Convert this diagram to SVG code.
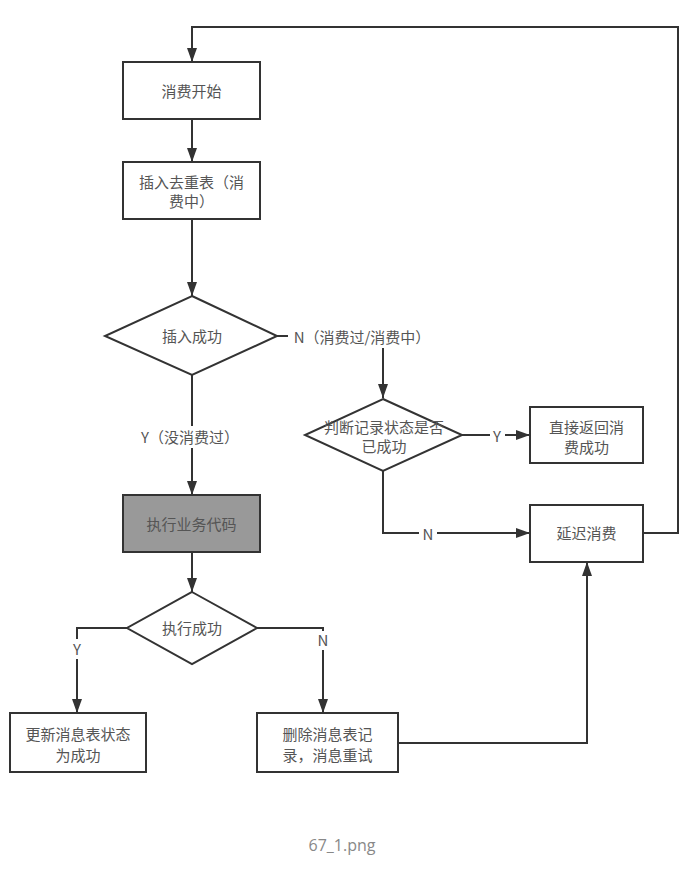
<svg xmlns="http://www.w3.org/2000/svg" width="692" height="873" viewBox="0 0 692 873">
<style>
.box{fill:#fff;stroke:#333;stroke-width:2}
.gray{fill:#999;stroke:#333;stroke-width:2}
.dia{fill:#fff;stroke:#333;stroke-width:2}
.t{font-family:"Noto Sans CJK SC","Noto Sans",sans-serif;font-size:15px;fill:#555;text-anchor:middle;dominant-baseline:central}
.c{fill:none;stroke:#333;stroke-width:2}
.bg{fill:#fff}
.cap{font-family:"Open Sans","Noto Sans",sans-serif;font-size:16px;fill:#888;text-anchor:middle}
</style>
<defs>
<marker id="arr" viewBox="0 0 14 10" refX="14" refY="5" markerWidth="14" markerHeight="10" markerUnits="userSpaceOnUse" orient="auto">
<path d="M0,0 L14,5 L0,10 z" fill="#333"/>
</marker>
</defs>
<rect width="692" height="873" fill="#fff"/>
<g id="connectors">
<path class="c" d="M643,533 H678 V27 H192 V62" marker-end="url(#arr)"/>
<path class="c" d="M192,119 V162" marker-end="url(#arr)"/>
<path class="c" d="M192,219 V296" marker-end="url(#arr)"/>
<path class="c" d="M277,336 H383 V398" marker-end="url(#arr)"/>
<rect class="bg" x="288" y="326" width="148" height="22"/>
<text class="t" x="362" y="336">N（消费过/消费中）</text>
<path class="c" d="M192,375 V495" marker-end="url(#arr)"/>
<rect class="bg" x="140" y="426" width="102" height="22"/>
<text class="t" x="190" y="436">Y（没消费过）</text>
<path class="c" d="M192,552 V592" marker-end="url(#arr)"/>
<path class="c" d="M462,435 H530" marker-end="url(#arr)"/>
<rect class="bg" x="490" y="426" width="15" height="20"/>
<text class="t" x="497" y="435">Y</text>
<path class="c" d="M383,471 V533 H530" marker-end="url(#arr)"/>
<rect class="bg" x="419" y="524" width="18" height="20"/>
<text class="t" x="428" y="533">N</text>
<path class="c" d="M127,628 H77 V713" marker-end="url(#arr)"/>
<rect class="bg" x="68" y="639" width="18" height="20"/>
<text class="t" x="77" y="648">Y</text>
<path class="c" d="M257,628 H323 V713" marker-end="url(#arr)"/>
<rect class="bg" x="314" y="631" width="18" height="19"/>
<text class="t" x="323" y="639">N</text>
<path class="c" d="M398,743 H587 V562" marker-end="url(#arr)"/>
</g>
<g id="start">
<rect class="box" x="123" y="62" width="137" height="57"/>
<text class="t" x="191.5" y="90">消费开始</text>
</g>
<g id="insert">
<rect class="box" x="123" y="162" width="137" height="57"/>
<text class="t" x="191.5" y="181">插入去重表（消</text>
<text class="t" x="191.5" y="200">费中）</text>
</g>
<g id="insertOk">
<polygon class="dia" points="192,296 277,336 192,375 105,336"/>
<text class="t" x="192" y="335">插入成功</text>
</g>
<g id="checkStatus">
<polygon class="dia" points="383,399 462,435 383,471 305,435"/>
<text class="t" x="384" y="426">判断记录状态是否</text>
<text class="t" x="384" y="445">已成功</text>
</g>
<g id="returnOk">
<rect class="box" x="530" y="407" width="113" height="56"/>
<text class="t" x="586.5" y="426">直接返回消</text>
<text class="t" x="586.5" y="446">费成功</text>
</g>
<g id="delay">
<rect class="box" x="530" y="505" width="113" height="57"/>
<text class="t" x="586.5" y="532">延迟消费</text>
</g>
<g id="exec">
<rect class="gray" x="123" y="495" width="137" height="57"/>
<text class="t" x="191.5" y="523">执行业务代码</text>
</g>
<g id="execOk">
<polygon class="dia" points="192,592 257,628 192,664 127,628"/>
<text class="t" x="192" y="627">执行成功</text>
</g>
<g id="update">
<rect class="box" x="10" y="713" width="136" height="59"/>
<text class="t" x="78" y="733">更新消息表状态</text>
<text class="t" x="78" y="754">为成功</text>
</g>
<g id="delete">
<rect class="box" x="257" y="713" width="141" height="59"/>
<text class="t" x="327.5" y="733">删除消息表记</text>
<text class="t" x="327.5" y="754">录，消息重试</text>
</g>
<text class="cap" x="342" y="851">67_1.png</text>
</svg>
